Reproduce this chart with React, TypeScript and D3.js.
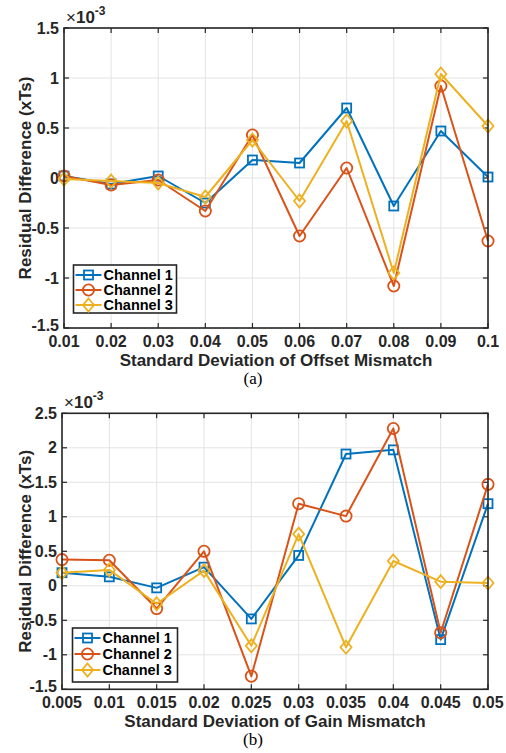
import React from "react";
import * as d3 from "d3";

const offsetX = [0.01, 0.02, 0.03, 0.04, 0.05, 0.06, 0.07, 0.08, 0.09, 0.1];
const offsetCh1 = [0.02, -0.06, 0.02, -0.25, 0.18, 0.15, 0.7, -0.28, 0.47, 0.01];
const offsetCh2 = [0.02, -0.07, -0.02, -0.33, 0.43, -0.58, 0.1, -1.08, 0.92, -0.63];
const offsetCh3 = [-0.01, -0.03, -0.05, -0.19, 0.38, -0.23, 0.57, -0.95, 1.04, 0.52];
const offsetYTicks = [-1.5, -1, -0.5, 0, 0.5, 1, 1.5];
const offsetXLabels = ["0.01", "0.02", "0.03", "0.04", "0.05", "0.06", "0.07", "0.08", "0.09", "0.1"];

const gainX = [0.005, 0.01, 0.015, 0.02, 0.025, 0.03, 0.035, 0.04, 0.045, 0.05];
const gainCh1 = [0.19, 0.13, -0.03, 0.27, -0.48, 0.44, 1.91, 1.97, -0.78, 1.19];
const gainCh2 = [0.38, 0.37, -0.33, 0.5, -1.31, 1.19, 1.01, 2.28, -0.68, 1.47];
const gainCh3 = [0.19, 0.23, -0.26, 0.22, -0.87, 0.75, -0.89, 0.36, 0.06, 0.04];
const gainYTicks = [-1.5, -1, -0.5, 0, 0.5, 1, 1.5, 2, 2.5];
const gainXLabels = ["0.005", "0.01", "0.015", "0.02", "0.025", "0.03", "0.035", "0.04", "0.045", "0.05"];

const seriesNames = ["Channel 1", "Channel 2", "Channel 3"];
const colors = ["#0072BD", "#D95319", "#EDB120"];
const shapes = ["square", "circle", "diamond"];

const FONT = "'Liberation Sans', Arial, Helvetica, sans-serif";
const TXT = "#262626";

function Marker({ shape, x, y, color }: { shape: string; x: number; y: number; color: string }) {
  if (shape === "square") {
    return <rect x={x - 4.5} y={y - 4.5} width={9} height={9} fill="none" stroke={color} strokeWidth={1.8} />;
  }
  if (shape === "circle") {
    return <circle cx={x} cy={y} r={5.6} fill="none" stroke={color} strokeWidth={1.8} />;
  }
  return (
    <path
      d={`M${x},${y - 6.5}L${x + 5.5},${y}L${x},${y + 6.5}L${x - 5.5},${y}Z`}
      fill="none"
      stroke={color}
      strokeWidth={1.8}
    />
  );
}

type PanelProps = {
  xs: number[];
  series: number[][];
  yTicks: number[];
  xLabels: string[];
  left: number;
  right: number;
  top: number;
  bottom: number;
  yDomain: [number, number];
  xTitle: string;
  caption: string;
  legendBox: { x: number; y: number; w: number; h: number; row: number };
};

function Panel(p: PanelProps) {
  const x = d3.scaleLinear().domain([p.xs[0], p.xs[p.xs.length - 1]]).range([p.left, p.right]);
  const y = d3.scaleLinear().domain(p.yDomain).range([p.bottom, p.top]);
  const line = d3
    .line<number>()
    .x((_, i) => x(p.xs[i]))
    .y((d) => y(d));
  const tl = 5;
  const lb = p.legendBox;
  return (
    <g>
      {p.xs.map((v, i) => (
        <line key={"gx" + i} x1={x(v)} x2={x(v)} y1={p.top} y2={p.bottom} stroke="#e3e3e3" strokeWidth={1} />
      ))}
      {p.yTicks.map((v, i) => (
        <line key={"gy" + i} x1={p.left} x2={p.right} y1={y(v)} y2={y(v)} stroke="#e3e3e3" strokeWidth={1} />
      ))}
      {p.xs.map((v, i) => (
        <g key={"tx" + i}>
          <line x1={x(v)} x2={x(v)} y1={p.bottom} y2={p.bottom - tl} stroke={TXT} strokeWidth={1.2} />
          <line x1={x(v)} x2={x(v)} y1={p.top} y2={p.top + tl} stroke={TXT} strokeWidth={1.2} />
        </g>
      ))}
      {p.yTicks.map((v, i) => (
        <g key={"ty" + i}>
          <line x1={p.left} x2={p.left + tl} y1={y(v)} y2={y(v)} stroke={TXT} strokeWidth={1.2} />
          <line x1={p.right} x2={p.right - tl} y1={y(v)} y2={y(v)} stroke={TXT} strokeWidth={1.2} />
        </g>
      ))}
      {p.xs.map((v, i) => (
        <text
          key={"lx" + i}
          x={x(v)}
          y={p.bottom + 19}
          textAnchor="middle"
          fontFamily={FONT}
          fontWeight="bold"
          fontSize={16}
          fill={TXT}
        >
          {p.xLabels[i]}
        </text>
      ))}
      {p.yTicks.map((v, i) => (
        <text
          key={"ly" + i}
          x={p.left - 5}
          y={y(v) + (i === 0 ? 3 : 5.5)}
          textAnchor="end"
          fontFamily={FONT}
          fontWeight="bold"
          fontSize={16}
          fill={TXT}
        >
          {String(v)}
        </text>
      ))}
      <text x={p.left + 2} y={p.top - 5} fontFamily={FONT} fontSize={17} fill={TXT}>
        ×
        <tspan fontWeight="bold">10</tspan>
        <tspan fontWeight="bold" fontSize={12} dy={-8}>
          -3
        </tspan>
      </text>
      {p.series.map((s, si) => (
        <g key={"s" + si}>
          <path d={line(s) || ""} fill="none" stroke={colors[si]} strokeWidth={2} strokeLinejoin="round" />
          {s.map((v, i) => (
            <Marker key={i} shape={shapes[si]} x={x(p.xs[i])} y={y(v)} color={colors[si]} />
          ))}
        </g>
      ))}
      <rect
        x={p.left}
        y={p.top}
        width={p.right - p.left}
        height={p.bottom - p.top}
        fill="none"
        stroke={TXT}
        strokeWidth={1.6}
      />
      <rect x={lb.x} y={lb.y} width={lb.w} height={lb.h} fill="#fff" stroke={TXT} strokeWidth={1.6} />
      {seriesNames.map((n, i) => {
        const cy = lb.y + 10 + i * lb.row;
        return (
          <g key={"lg" + i}>
            <line x1={lb.x + 2} x2={lb.x + 28} y1={cy} y2={cy} stroke={colors[i]} strokeWidth={2} />
            <Marker shape={shapes[i]} x={lb.x + 15} y={cy} color={colors[i]} />
            <text x={lb.x + 30} y={cy + 5} fontFamily={FONT} fontWeight="bold" fontSize={14.5} fill="#000">
              {n}
            </text>
          </g>
        );
      })}
      <text
        x={(p.left + p.right) / 2}
        y={p.bottom + 38}
        textAnchor="middle"
        fontFamily={FONT}
        fontWeight="bold"
        fontSize={17}
        fill={TXT}
      >
        {p.xTitle}
      </text>
      <text
        transform={`translate(31,${(p.top + p.bottom) / 2}) rotate(-90)`}
        textAnchor="middle"
        fontFamily={FONT}
        fontWeight="bold"
        fontSize={17}
        fill={TXT}
      >
        Residual Difference (xTs)
      </text>
      <text
        x={253}
        y={p.bottom + 56}
        textAnchor="middle"
        fontFamily="'Liberation Serif', 'Times New Roman', serif"
        fontSize={17}
        fill="#000"
      >
        {p.caption}
      </text>
    </g>
  );
}

export default function App() {
  return (
    <svg width={506} height={753} style={{ position: "absolute", left: 0, top: 0, background: "#fff" }}>
      <rect width={506} height={753} fill="#fff" />
      <Panel
        xs={offsetX}
        series={[offsetCh1, offsetCh2, offsetCh3]}
        yTicks={offsetYTicks}
        xLabels={offsetXLabels}
        left={64}
        right={488}
        top={28}
        bottom={328}
        yDomain={[-1.5, 1.5]}
        xTitle="Standard Deviation of Offset Mismatch"
        caption="(a)"
        legendBox={{ x: 73.5, y: 265, w: 103, h: 48, row: 15 }}
      />
      <Panel
        xs={gainX}
        series={[gainCh1, gainCh2, gainCh3]}
        yTicks={gainYTicks}
        xLabels={gainXLabels}
        left={62}
        right={488}
        top={413.3}
        bottom={689.3}
        yDomain={[-1.5, 2.5]}
        xTitle="Standard Deviation of Gain Mismatch"
        caption="(b)"
        legendBox={{ x: 72.5, y: 628, w: 105, h: 54, row: 16 }}
      />
    </svg>
  );
}
